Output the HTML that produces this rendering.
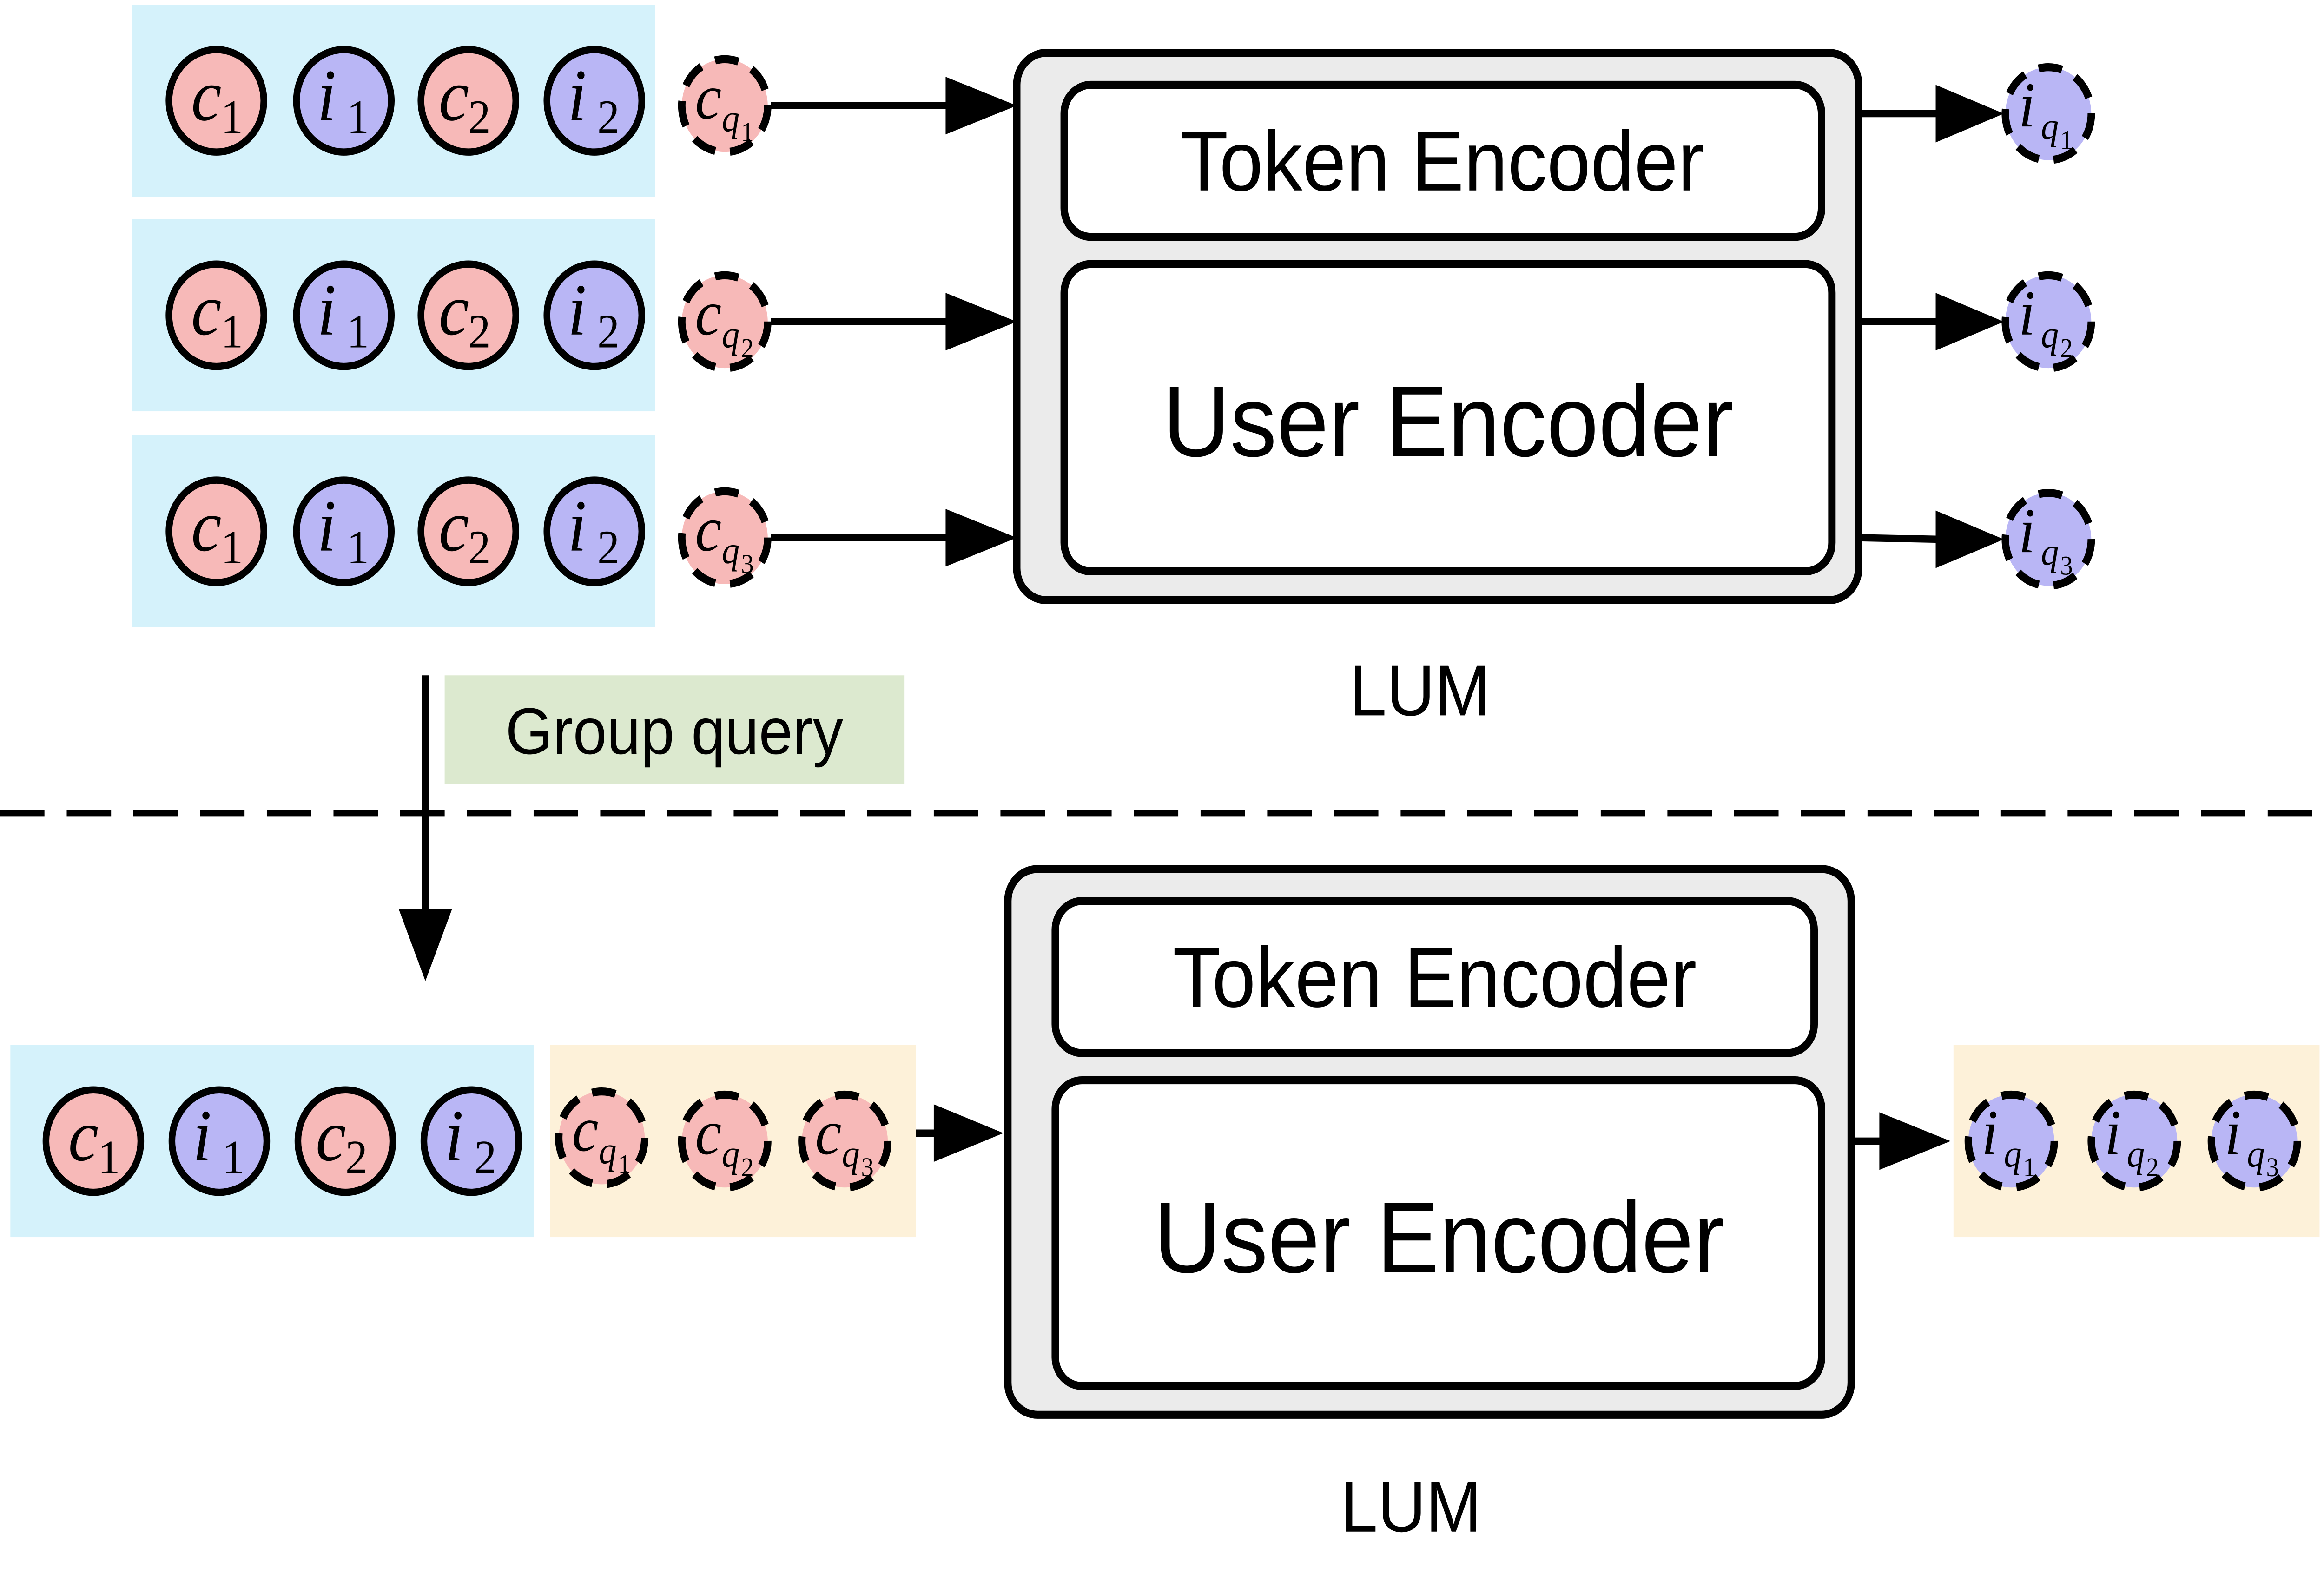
<!DOCTYPE html>
<html><head><meta charset="utf-8"><style>
html,body{margin:0;padding:0;background:#fff;overflow:hidden;width:100%;height:100%;}
svg{display:block;width:100vw;height:100vh;}
text{font-family:"Liberation Sans",sans-serif;}
.m{font-family:"Liberation Serif",serif;font-style:italic;}
.s{font-family:"Liberation Serif",serif;font-style:normal;}
</style></head><body>
<svg viewBox="0 0 1568 996" preserveAspectRatio="none" xmlns="http://www.w3.org/2000/svg">
<defs>
<g id="c1"><circle r="32" fill="#f7b9b8" stroke="#000" stroke-width="4.5"/><text class="m" x="-17" y="12" font-size="46">c</text><text class="s" x="3" y="20" font-size="30">1</text></g>
<g id="c2"><circle r="32" fill="#f7b9b8" stroke="#000" stroke-width="4.5"/><text class="m" x="-20" y="12" font-size="46">c</text><text class="s" x="0" y="20" font-size="30">2</text></g>
<g id="i1"><circle r="32" fill="#b9b6f5" stroke="#000" stroke-width="4.5"/><text class="m" x="-18" y="12" font-size="46">i</text><text class="s" x="2" y="20" font-size="30">1</text></g>
<g id="i2"><circle r="32" fill="#b9b6f5" stroke="#000" stroke-width="4.5"/><text class="m" x="-18" y="12" font-size="46">i</text><text class="s" x="2" y="20" font-size="30">2</text></g>
<g id="cq"><circle r="29" fill="#f7b9b8" stroke="#000" stroke-width="5" stroke-dasharray="16 10"/></g>
<g id="iq"><circle r="29" fill="#b9b6f5" stroke="#000" stroke-width="5" stroke-dasharray="16 10"/></g>
</defs>

<rect x="89" y="3" width="353" height="120" fill="#d5f2fb"/>
<rect x="89" y="137" width="353" height="120" fill="#d5f2fb"/>
<rect x="89" y="272" width="353" height="120" fill="#d5f2fb"/>
<g transform="translate(146,63)"><use href="#c1"/></g><g transform="translate(232,63)"><use href="#i1"/></g><g transform="translate(316,63)"><use href="#c2"/></g><g transform="translate(401,63)"><use href="#i2"/></g>
<g transform="translate(146,197)"><use href="#c1"/></g><g transform="translate(232,197)"><use href="#i1"/></g><g transform="translate(316,197)"><use href="#c2"/></g><g transform="translate(401,197)"><use href="#i2"/></g>
<g transform="translate(146,332)"><use href="#c1"/></g><g transform="translate(232,332)"><use href="#i1"/></g><g transform="translate(316,332)"><use href="#c2"/></g><g transform="translate(401,332)"><use href="#i2"/></g>

<g transform="translate(489,66)"><use href="#cq"/><text class="m" x="-20" y="8" font-size="40">c</text><text class="m" x="-2" y="16" font-size="24">q</text><text class="s" x="11" y="22" font-size="17">1</text></g>
<g transform="translate(489,201)"><use href="#cq"/><text class="m" x="-20" y="8" font-size="40">c</text><text class="m" x="-2" y="16" font-size="24">q</text><text class="s" x="11" y="22" font-size="17">2</text></g>
<g transform="translate(489,336)"><use href="#cq"/><text class="m" x="-20" y="8" font-size="40">c</text><text class="m" x="-2" y="16" font-size="24">q</text><text class="s" x="11" y="22" font-size="17">3</text></g>

<g stroke="#000" stroke-width="4.5">
<line x1="520" y1="66" x2="640" y2="66"/><line x1="520" y1="201" x2="640" y2="201"/><line x1="520" y1="336" x2="640" y2="336"/>
</g>
<path d="M638,48 L686,66 L638,84z"/><path d="M638,183 L686,201 L638,219z"/><path d="M638,318 L686,336 L638,354z"/>

<rect x="686" y="33" width="568" height="342" rx="20" fill="#ebebeb" stroke="#000" stroke-width="5"/>
<rect x="718" y="53" width="511" height="95" rx="18" fill="#fff" stroke="#000" stroke-width="5"/>
<rect x="718" y="165" width="518" height="192" rx="18" fill="#fff" stroke="#000" stroke-width="5"/>
<text x="973" y="119" font-size="53" text-anchor="middle">Token Encoder</text>
<text x="977" y="285" font-size="63" text-anchor="middle">User Encoder</text>
<text x="958" y="447" font-size="45" text-anchor="middle">LUM</text>

<g stroke="#000" stroke-width="4.5">
<line x1="1254" y1="71" x2="1310" y2="71"/><line x1="1254" y1="201" x2="1310" y2="201"/><line x1="1254" y1="336" x2="1310" y2="337"/>
</g>
<path d="M1306,53 L1352,71 L1306,89z"/><path d="M1306,183 L1352,201 L1306,219z"/><path d="M1306,319 L1352,337 L1306,355z"/>
<g transform="translate(1382,71)"><use href="#iq"/><text class="m" x="-20" y="8" font-size="40">i</text><text class="m" x="-5" y="16" font-size="24">q</text><text class="s" x="8" y="22" font-size="17">1</text></g>
<g transform="translate(1382,201)"><use href="#iq"/><text class="m" x="-20" y="8" font-size="40">i</text><text class="m" x="-5" y="16" font-size="24">q</text><text class="s" x="8" y="22" font-size="17">2</text></g>
<g transform="translate(1382,337)"><use href="#iq"/><text class="m" x="-20" y="8" font-size="40">i</text><text class="m" x="-5" y="16" font-size="24">q</text><text class="s" x="8" y="22" font-size="17">3</text></g>

<line x1="287" y1="422" x2="287" y2="572" stroke="#000" stroke-width="4.5"/>
<path d="M269,568 L287,613 L305,568z"/>
<rect x="300" y="422" width="310" height="68" fill="#dce9cf"/>
<text x="455" y="471" font-size="41" text-anchor="middle">Group query</text>

<line x1="0" y1="508" x2="1568" y2="508" stroke="#000" stroke-width="4" stroke-dasharray="30 15"/>

<rect x="7" y="653" width="353" height="120" fill="#d5f2fb"/>
<g transform="translate(63,713)"><use href="#c1"/></g><g transform="translate(148,713)"><use href="#i1"/></g><g transform="translate(233,713)"><use href="#c2"/></g><g transform="translate(318,713)"><use href="#i2"/></g>
<rect x="371" y="653" width="247" height="120" fill="#fdf1d9"/>
<g transform="translate(406,711)"><use href="#cq"/><text class="m" x="-20" y="8" font-size="40">c</text><text class="m" x="-2" y="16" font-size="24">q</text><text class="s" x="11" y="22" font-size="17">1</text></g>
<g transform="translate(489,713)"><use href="#cq"/><text class="m" x="-20" y="8" font-size="40">c</text><text class="m" x="-2" y="16" font-size="24">q</text><text class="s" x="11" y="22" font-size="17">2</text></g>
<g transform="translate(570,713)"><use href="#cq"/><text class="m" x="-20" y="8" font-size="40">c</text><text class="m" x="-2" y="16" font-size="24">q</text><text class="s" x="11" y="22" font-size="17">3</text></g>
<line x1="618" y1="708" x2="634" y2="708" stroke="#000" stroke-width="4.5"/>
<path d="M630,690 L677,708 L630,726z"/>

<rect x="680" y="543" width="569" height="341" rx="20" fill="#ebebeb" stroke="#000" stroke-width="5"/>
<rect x="712" y="563" width="512" height="95" rx="18" fill="#fff" stroke="#000" stroke-width="5"/>
<rect x="712" y="675" width="517" height="191" rx="18" fill="#fff" stroke="#000" stroke-width="5"/>
<text x="968" y="629" font-size="53" text-anchor="middle">Token Encoder</text>
<text x="971" y="795" font-size="63" text-anchor="middle">User Encoder</text>
<text x="952" y="957" font-size="45" text-anchor="middle">LUM</text>

<line x1="1249" y1="713" x2="1272" y2="713" stroke="#000" stroke-width="4.5"/>
<path d="M1268,695 L1316,713 L1268,731z"/>
<rect x="1318" y="653" width="247" height="120" fill="#fdf1d9"/>
<g transform="translate(1357,713)"><use href="#iq"/><text class="m" x="-20" y="8" font-size="40">i</text><text class="m" x="-5" y="16" font-size="24">q</text><text class="s" x="8" y="22" font-size="17">1</text></g>
<g transform="translate(1440,713)"><use href="#iq"/><text class="m" x="-20" y="8" font-size="40">i</text><text class="m" x="-5" y="16" font-size="24">q</text><text class="s" x="8" y="22" font-size="17">2</text></g>
<g transform="translate(1521,713)"><use href="#iq"/><text class="m" x="-20" y="8" font-size="40">i</text><text class="m" x="-5" y="16" font-size="24">q</text><text class="s" x="8" y="22" font-size="17">3</text></g>
</svg>
</body></html>
